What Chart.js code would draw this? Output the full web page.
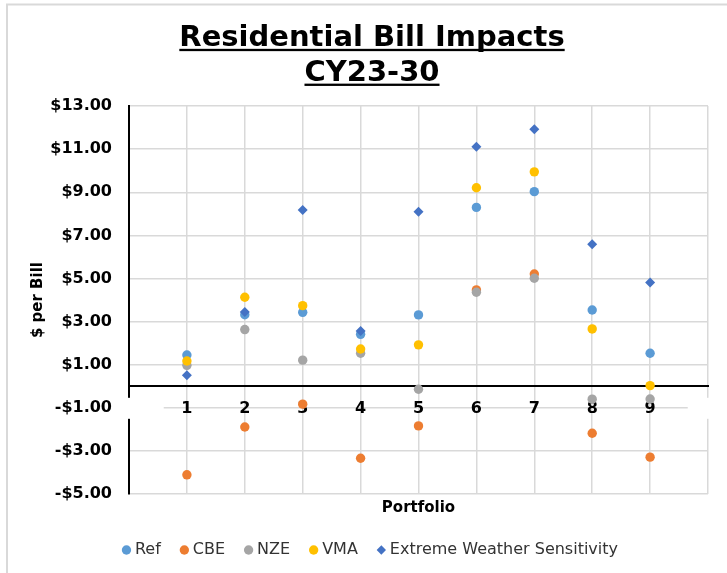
<!DOCTYPE html>
<html>
<head>
<meta charset="utf-8">
<script src="https://cdn.jsdelivr.net/npm/chart.js@4/dist/chart.umd.min.js"></script>
<style>
  html, body { margin: 0; padding: 0; background: #fff; }
  #chart { display: block; }
</style>
</head>
<body>
<canvas id="chart" width="727" height="573"></canvas>
<script>
// values
const portfolios = [1, 2, 3, 4, 5, 6, 7, 8, 9];
const refVals = [1.45, 3.32, 3.43, 2.41, 3.31, 8.30, 9.03, 3.54, 1.53];
const cbeVals = [-4.11, -1.89, -0.83, -3.34, -1.84, 4.47, 5.21, -2.18, -3.29];
const nzeVals = [0.97, 2.63, 1.21, 1.53, -0.14, 4.36, 5.01, -0.60, -0.59];
const vmaVals = [1.17, 4.13, 3.74, 1.73, 1.92, 9.21, 9.95, 2.66, 0.03];
const ewsVals = [0.51, 3.45, 8.18, 2.56, 8.10, 11.11, 11.93, 6.59, 4.82];

const seriesNames = ['Ref', 'CBE', 'NZE', 'VMA', 'Extreme Weather Sensitivity'];
const seriesColors = ['#5B9BD5', '#ED7D31', '#A5A5A5', '#FFC000', '#4472C4'];
const seriesStyles = ['circle', 'circle', 'circle', 'circle', 'rectRot'];
const seriesVals = [refVals, cbeVals, nzeVals, vmaVals, ewsVals];

const titleLines = ['Residential Bill Impacts', 'CY23-30'];
const FONT = "'DejaVu Sans', Verdana, sans-serif";

function money(v) {
  const s = '$' + Math.abs(v).toFixed(2);
  return v < 0 ? '-' + s : s;
}

const datasets = seriesNames.map((name, i) => ({
  label: name,
  data: seriesVals[i].map((v, j) => ({ x: portfolios[j], y: v })),
  backgroundColor: seriesColors[i],
  borderColor: seriesColors[i],
  borderWidth: 0,
  pointStyle: seriesStyles[i],
  pointRadius: i === 4 ? 5 : 4.7,
  order: seriesNames.length - i
}));

// page frame + white patches where excel hides the category label strip
const framePlugin = {
  id: 'frame',
  beforeDraw(chart) {
    const ctx = chart.ctx;
    ctx.save();
    ctx.strokeStyle = '#d9d9d9';
    ctx.lineWidth = 2;
    ctx.beginPath();
    ctx.moveTo(7, chart.height);
    ctx.lineTo(7, 4.5);
    ctx.lineTo(chart.width, 4.5);
    ctx.stroke();
    ctx.restore();
  },
  beforeDatasetsDraw(chart) {
    const { ctx, scales: { x, y } } = chart;
    const top = y.getPixelForValue(-1) - 10;
    ctx.save();
    ctx.fillStyle = '#fff';
    ctx.fillRect(x.getPixelForValue(0) - 3, top, x.getPixelForValue(0.6) - x.getPixelForValue(0) + 3, 21);
    ctx.fillRect(x.getPixelForValue(9.65), top, x.getPixelForValue(10) - x.getPixelForValue(9.65) + 3, 21);
    ctx.restore();
  }
};

// chart.js title has no underline, so add it
const underlinePlugin = {
  id: 'underline',
  afterDraw(chart) {
    const tb = chart.titleBlock;
    if (!tb) return;
    const opts = tb.options;
    const font = Chart.helpers.toFont(opts.font);
    const pad = Chart.helpers.toPadding(opts.padding);
    const ctx = chart.ctx;
    ctx.save();
    ctx.font = font.string;
    ctx.textBaseline = 'middle';
    const cx = (tb.left + tb.right) / 2;
    const toBase = ctx.measureText('x').actualBoundingBoxDescent;
    ctx.fillStyle = '#000';
    titleLines.forEach((line, i) => {
      const mid = tb.top + pad.top + font.lineHeight / 2 + i * font.lineHeight;
      const w = ctx.measureText(line).width;
      const uy = mid + toBase + font.size * 0.1;
      ctx.fillRect(cx - w / 2, uy, w, 2.3);
    });
    ctx.restore();
  }
};

new Chart(document.getElementById('chart'), {
  type: 'scatter',
  data: { datasets },
  plugins: [framePlugin, underlinePlugin],
  options: {
    responsive: false,
    animation: false,
    layout: { padding: { left: 36, right: 19, top: 0, bottom: 5 } },
    plugins: {
      tooltip: { enabled: false },
      title: {
        display: true,
        text: titleLines,
        color: '#000',
        font: { family: FONT, size: 29, weight: 'bold', lineHeight: 1.2 },
        padding: { top: 21, bottom: 15.5 }
      },
      legend: {
        position: 'bottom',
        labels: {
          usePointStyle: true,
          boxWidth: 1,
          boxHeight: 6.6,
          padding: 23,
          color: '#333',
          font: { family: FONT, size: 16 },
          sort: (a, b) => a.datasetIndex - b.datasetIndex
        }
      }
    },
    scales: {
      x: {
        type: 'linear',
        min: 0,
        max: 10,
        position: 'bottom',
        afterFit: (s) => { s.height = 25; },
        ticks: { display: false, stepSize: 1 },
        grid: { color: '#d9d9d9', lineWidth: 1.5, drawTicks: false },
        border: { display: false },
        title: {
          display: true,
          text: 'Portfolio',
          color: '#000',
          font: { family: FONT, size: 15, weight: 'bold', lineHeight: 1.2 },
          padding: { top: 0, bottom: 2 }
        }
      },
      x2: {
        type: 'linear',
        axis: 'x',
        min: 0,
        max: 10,
        position: { y: 0 },
        afterFit: (s) => { s.height = 0; },
        grid: { drawOnChartArea: false, drawTicks: false },
        border: { display: true, color: '#000', width: 2 },
        ticks: {
          stepSize: 1,
          autoSkip: false,
          maxRotation: 0,
          padding: 13,
          color: '#000',
          font: { family: FONT, size: 16, weight: 'bold' },
          callback: (v) => portfolios.includes(v) ? String(v) : ''
        }
      },
      y: {
        min: -5,
        max: 13,
        afterFit: (s) => { s.width = 93; },
        ticks: {
          stepSize: 2,
          padding: 17,
          color: '#000',
          font: { family: FONT, size: 16, weight: 'bold' },
          callback: (v) => money(v)
        },
        grid: { color: '#d9d9d9', lineWidth: 1.5, drawTicks: false },
        border: { display: true, color: '#000', width: 2 },
        title: {
          display: true,
          text: '$ per Bill',
          color: '#000',
          font: { family: FONT, size: 15, weight: 'bold', lineHeight: 1.2 },
          padding: { top: -7, bottom: 0 }
        }
      }
    }
  }
});
</script>
</body>
</html>
